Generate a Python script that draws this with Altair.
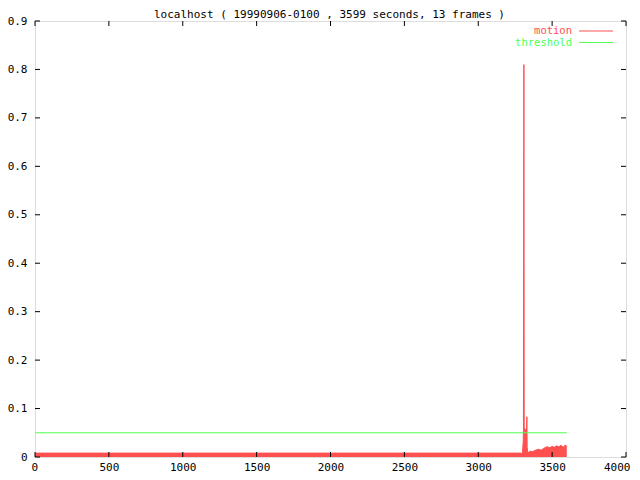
import altair as alt
import pandas as pd

# motion envelope (seconds, value)
motion_t = [0, 3290, 3296, 3300, 3304, 3306, 3309, 3311, 3314, 3318, 3322, 3326, 3329, 3331, 3334,
            3338, 3345, 3355, 3365, 3380, 3395, 3410, 3425, 3440, 3455, 3470, 3485, 3500, 3515,
            3530, 3545, 3560, 3575, 3590, 3599]
motion_v = [0.008, 0.008, 0.004, 0.012, 0.03, 0.055, 0.81, 0.06, 0.055, 0.05, 0.058, 0.03, 0.083, 0.02, 0.012,
            0.009, 0.011, 0.012, 0.011, 0.013, 0.015, 0.016, 0.014, 0.017, 0.02, 0.021, 0.019, 0.022, 0.02,
            0.023, 0.021, 0.024, 0.02, 0.025, 0.022]

threshold_value = 0.05
threshold_start = 0
threshold_end = 3599

x_ticks = [0, 500, 1000, 1500, 2000, 2500, 3000, 3500, 4000]
y_ticks = [0, 0.1, 0.2, 0.3, 0.4, 0.5, 0.6, 0.7, 0.8, 0.9]

legend_labels = ["motion", "threshold"]
legend_colors = ["#ff5050", "#50ff50"]

title_text = ["localhost ( 19990906-0100 , 3599 seconds, 13 frames )"]

FONT = "DejaVu Sans Mono"
W, H = 591, 436

motion_df = pd.DataFrame({"t": motion_t, "v": motion_v})
thr_df = pd.DataFrame({"t": [threshold_start], "t2": [threshold_end], "v": [threshold_value]})
xt_df = pd.DataFrame({"t": x_ticks})
yt_df = pd.DataFrame({"v": y_ticks})
title_df = pd.DataFrame({"title": title_text})

xscale = alt.Scale(domain=[0, 4000], nice=False, zero=False)
yscale = alt.Scale(domain=[0, 0.9], nice=False)

xaxis = alt.Axis(values=x_ticks, ticks=False, domain=False, grid=False, labelFont=FONT,
                 labelFontSize=11, labelColor="black", labelPadding=4, title=None, format="d",
                 labelFlush=True, labelFlushOffset=4)
yaxis = alt.Axis(values=y_ticks, ticks=False, domain=False, grid=False, labelFont=FONT,
                 labelFontSize=11, labelColor="black", labelPadding=8, title=None, format="~g")

area = alt.Chart(motion_df).mark_area(color=legend_colors[0], interpolate="linear", opacity=1,
                                      line={"color": legend_colors[0], "strokeWidth": 1}).encode(
    x=alt.X("t:Q", scale=xscale, axis=xaxis),
    y=alt.Y("v:Q", scale=yscale, axis=yaxis),
)

thr = alt.Chart(thr_df).mark_rule(color=legend_colors[1], strokeWidth=1).encode(
    x="t:Q", x2="t2:Q", y="v:Q"
)

xt_bottom = alt.Chart(xt_df).mark_rule(color="black").encode(
    x="t:Q", y=alt.value(H), y2=alt.value(H - 5))
xt_top = alt.Chart(xt_df).mark_rule(color="black").encode(
    x="t:Q", y=alt.value(0), y2=alt.value(5))
yt_left = alt.Chart(yt_df).mark_rule(color="black").encode(
    y="v:Q", x=alt.value(0), x2=alt.value(5))
yt_right = alt.Chart(yt_df).mark_rule(color="black").encode(
    y="v:Q", x=alt.value(W), x2=alt.value(W - 5))

title = alt.Chart(title_df).mark_text(align="center", baseline="middle", font=FONT, fontSize=11,
                                      color="black").encode(
    text="title:N", x=alt.value(W / 2 - 1), y=alt.value(-6.5))

legend_layers = []
for i, (lab, col) in enumerate(zip(legend_labels, legend_colors)):
    ypix = 10 + i * 11.5
    ldf = pd.DataFrame({"label": [lab]})
    legend_layers.append(
        alt.Chart(ldf).mark_text(align="right", baseline="middle", font=FONT, fontSize=10.5, color=col).encode(
            text="label:N", x=alt.value(537), y=alt.value(ypix)))
    legend_layers.append(
        alt.Chart(ldf).mark_rule(color=col, strokeWidth=1).encode(
            x=alt.value(544), x2=alt.value(578), y=alt.value(ypix)))

chart = alt.layer(area, thr, xt_bottom, xt_top, yt_left, yt_right, title, *legend_layers).properties(
    width=W, height=H,
    autosize=alt.AutoSizeParams(type="none"),
    padding={"left": 27, "top": 13, "right": 6, "bottom": 18},
).configure_view(stroke="black", strokeWidth=1).configure(background="white")

chart.save("out.html", embed_options={"renderer": "svg", "actions": False})
